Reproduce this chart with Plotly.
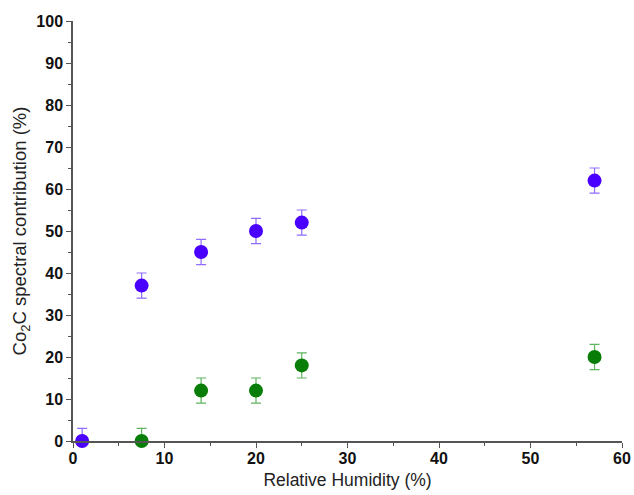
import plotly.graph_objects as go

rh_purple = [1, 7.5, 14, 20, 25, 57]
val_purple = [0, 37, 45, 50, 52, 62]
err_purple = [3, 3, 3, 3, 3, 3]

rh_green = [7.5, 14, 20, 25, 57]
val_green = [0, 12, 12, 18, 20]
err_green = [3, 3, 3, 3, 3]

fig = go.Figure()
fig.add_trace(go.Scatter(
    x=rh_purple, y=val_purple, mode="markers",
    marker=dict(color="#4a00ff", size=14),
    error_y=dict(type="data", array=err_purple, color="#8f6cff", thickness=1.2, width=5),
    cliponaxis=False, showlegend=False))
fig.add_trace(go.Scatter(
    x=rh_green, y=val_green, mode="markers",
    marker=dict(color="#087d08", size=14),
    error_y=dict(type="data", array=err_green, color="#5fb45f", thickness=1.2, width=5),
    cliponaxis=False, showlegend=False))

axis_common = dict(
    showgrid=False, zeroline=False, showline=True, linecolor="#555", linewidth=1.5,
    ticks="outside", ticklen=5, tickwidth=1.2, tickcolor="#555", automargin=False,
    ticklabeloverflow="allow",
    tickfont=dict(family="Arial, Liberation Sans", size=16, color="#111", weight="bold"),
    minor=dict(ticks="outside", ticklen=3, tickwidth=1, tickcolor="#555", dtick=5),
)
fig.update_xaxes(range=[0, 60], dtick=10, **axis_common, ticklabelstandoff=-3,
                 title=dict(text="Relative Humidity (%)", standoff=8,
                            font=dict(family="Arial, Liberation Sans", size=17.5, color="#222")))
fig.update_yaxes(range=[0, 100], dtick=10, **axis_common,
                 title=dict(text="Co<sub>2</sub>C spectral contribution (%)", standoff=5,
                            font=dict(family="Arial, Liberation Sans", size=18.5, color="#222")))
fig.update_layout(width=634, height=495, plot_bgcolor="white", paper_bgcolor="white",
                  margin=dict(l=73, r=12, t=21, b=54))
fig.write_html("out.html", config={"displayModeBar": False},
               post_script="document.body.style.margin='0';document.body.style.overflow='hidden';")
